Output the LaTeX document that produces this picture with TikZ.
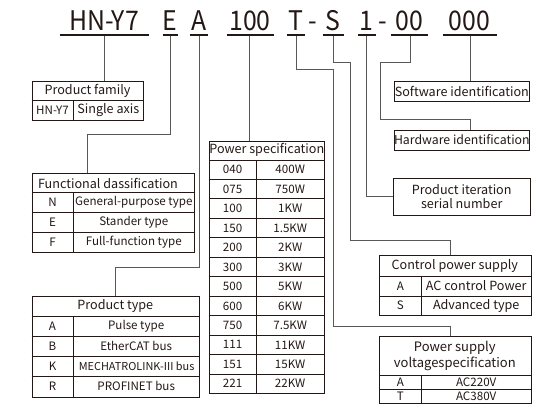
\documentclass[tikz,border=0pt]{standalone}
\usepackage{fontspec}
\setmainfont{Noto Sans CJK SC}
\usetikzlibrary{calc}
\definecolor{ink}{HTML}{231815}
\definecolor{wire}{HTML}{5A5757}
\tikzset{
  hdtext/.style={font=\fontsize{27}{27}\selectfont, text=ink, inner sep=0pt, anchor=base, xscale=0.92},
  uline/.style={draw=ink, line width=2.2pt},
  wireline/.style={draw=wire, line width=0.9pt},
  boxline/.style={draw=ink, line width=0.9pt},
  cellhead/.style={font=\fontsize{12.6}{14}\selectfont, text=ink, inner sep=0pt},
  cell/.style={font=\fontsize{11.6}{13}\selectfont, text=ink, inner sep=0pt},
  frame/.style={boxline, inner sep=0pt, anchor=north west},
}
\newcommand{\tframe}[5]{% name, x1,y1,x2,y2
  \node[frame, minimum width={(#4-#2)*1pt}, minimum height={(#5-#3)*1pt}] (#1) at (#2,#3) {};}
\begin{document}
\begin{tikzpicture}[x=1pt,y=-1pt]
\useasboundingbox (0,0) rectangle (544,410);
% ---------------- header ----------------
\node[hdtext] (hHN) at (104,30.5) {HN-Y7};
\node[hdtext] (hE) at (170,30.5) {E};
\node[hdtext] (hA) at (199,30.5) {A};
\node[hdtext] (h100) at (250,30.5) {100};
\node[hdtext] (hT) at (296,30.5) {T};
\node[hdtext] (hd1) at (313,30.5) {-};
\node[hdtext] (hS) at (333,30.5) {S};
\node[hdtext] (h1) at (366.5,30.5) {1};
\node[hdtext] (hd2) at (382.5,30.5) {-};
\node[hdtext] (h00) at (409.5,30.5) {00};
\node[hdtext] (h000) at (469.5,30.5) {000};
\draw[uline] (59.5,35) -- (148.5,35);
\draw[uline] (162.5,35) -- (177.5,35);
\draw[uline] (189.5,35) -- (208,35);
\draw[uline] (226.5,35) -- (273.5,35);
\draw[uline] (287,35) -- (305,35);
\draw[uline] (322.5,35) -- (344,35);
\draw[uline] (358,35) -- (375.5,35);
\draw[uline] (391,35) -- (428,35);
\draw[uline] (443,35) -- (497,35);
\coordinate (tHN) at (104,36);
\coordinate (tE) at (170,36);
\coordinate (tA) at (199,36);
\coordinate (t100) at (249.3,36);
\coordinate (tT) at (296,36);
\coordinate (tS) at (333.3,36);
\coordinate (t1) at (366.7,36);
\coordinate (t00) at (410,36);
\coordinate (t000) at (470,36);
% ---------------- Product family ----------------
\tframe{pf}{31.7}{80.7}{143.3}{120}
\draw[boxline] (31.7,100) -- (143.3,100) (73.3,100) -- (73.3,120);
\node[cellhead] (pfh) at (87.5,90.5) {Product family};
\node[cell] (pfa) at (52.5,110.3) {HN-Y7};
\node[cellhead] (pfb) at (108.3,110.3) {Single axis};
% ---------------- Functional ----------------
\tframe{fc}{31.7}{173.3}{194.3}{251.7}
\draw[boxline] (31.7,192.7) -- (194.3,192.7) (31.7,212.3) -- (194.3,212.3) (31.7,232.3) -- (194.3,232.3)
  (73.3,192.7) -- (73.3,251.7);
\node[cellhead, anchor=west] (fch) at (37.8,183) {Functional dassification};
\node[cell] (fc1a) at (52.5,202.5) {N};
\node[cell] (fc1b) at (133.8,202.5) {General-purpose type};
\node[cell] (fc2a) at (52.5,222.3) {E};
\node[cell] (fc2b) at (133.8,222.3) {Stander type};
\node[cell] (fc3a) at (52.5,242) {F};
\node[cell] (fc3b) at (133.8,242) {Full-function type};
% ---------------- Product type ----------------
\tframe{pt}{31.7}{296}{199}{396.7}
\draw[boxline] (31.7,316) -- (199,316) (31.7,336) -- (199,336) (31.7,356) -- (199,356) (31.7,376) -- (199,376)
  (73.3,316) -- (73.3,396.7);
\node[cellhead] (pth) at (115.3,306) {Product type};
\node[cell] (pt1a) at (52.5,326) {A};
\node[cell] (pt1b) at (136.2,326) {Pulse type};
\node[cell] (pt2a) at (52.5,346) {B};
\node[cell] (pt2b) at (136.2,346) {EtherCAT bus};
\node[cell] (pt3a) at (52.5,366) {K};
\node[cell, font=\fontsize{10.9}{13}\selectfont] (pt3b) at (136.6,366) {MECHATROLINK-III bus};
\node[cell] (pt4a) at (52.5,386.3) {R};
\node[cell] (pt4b) at (136.2,386.3) {PROFINET bus};
% ---------------- Power specification ----------------
\tframe{ps}{209.3}{140.7}{324.3}{393.4}
\draw[boxline] (209.3,160) -- (324.3,160) (256,160) -- (256,393.4);
\foreach \i in {1,...,11} {\draw[boxline] (209.3,{160+\i*19.45}) -- (324.3,{160+\i*19.45});}
\node[cellhead] (psh) at (266.8,150.3) {Power specification};
\foreach \a/\b [count=\i] in {040/400W,075/750W,100/1KW,150/1.5KW,200/2KW,300/3KW,500/5KW,600/6KW,750/7.5KW,111/11KW,151/15KW,221/22KW} {
  \node[cell] (psa\i) at (232.6,{160+(\i-0.5)*19.45}) {\a};
  \node[cell] (psb\i) at (290.2,{160+(\i-0.5)*19.45}) {\b};
}
% ---------------- Right boxes ----------------
\tframe{sw}{394.3}{81}{529.3}{101}
\node[cellhead] (swt) at (461.8,91) {Software identification};
\tframe{hw}{394.3}{130}{529.3}{149.5}
\node[cellhead, font=\fontsize{12.3}{14}\selectfont] (hwt) at (461.8,139.8) {Hardware identification};
\tframe{pi}{393.3}{178.3}{530}{215}
\node[cellhead, align=center] (pit) at (461.7,196.7) {Product iteration\\serial number};
% ---------------- Control power supply ----------------
\tframe{cp}{379}{255}{530.7}{315}
\draw[boxline] (379,276) -- (530.7,276) (379,296) -- (530.7,296) (421.7,276) -- (421.7,315);
\node[cellhead] (cph) at (454.8,265.5) {Control power supply};
\node[cell] (cp1a) at (400.3,286) {A};
\node[cellhead] (cp1b) at (476.2,286) {AC control Power};
\node[cell] (cp2a) at (400.3,305.5) {S};
\node[cellhead] (cp2b) at (476.2,305.5) {Advanced type};
% ---------------- Power supply voltage ----------------
\tframe{pv}{379}{336}{530.7}{403.3}
\draw[boxline] (379,375) -- (530.7,375) (379,389.3) -- (530.7,389.3) (421.7,375) -- (421.7,403.3);
\node[cellhead, align=center, font=\fontsize{13}{16}\selectfont] (pvh) at (454.8,355.5) {Power supply\\voltagespecification};
\node[cell] (pv1a) at (400.3,382.2) {A};
\node[cell] (pv1b) at (476.2,382.2) {AC220V};
\node[cell] (pv2a) at (400.3,396.3) {T};
\node[cell] (pv2b) at (476.2,396.3) {AC380V};
% ---------------- connectors ----------------
\draw[wireline] (tHN) -- (tHN |- pf.north);
\draw[wireline] (tE) |- (87.3,134) -- (87.3,173.3);
\draw[wireline] (tA) |- (115.7,267.3) -- (115.7,296);
\draw[wireline] (t100) -- (t100 |- ps.north);
\draw[wireline] (tT) |- (333.3,69.3) |- (450,326.7) -- (450,336);
\draw[wireline] (tS) |- (350,62.7) |- (450,240.7) -- (450,255);
\draw[wireline] (t1) |- (pi.west |- 0,196.7);
\draw[wireline] (t00) |- (380.7,62.7) |- (470,119.3) -- (470,130);
\draw[wireline] (t000) -- (t000 |- sw.north);
\end{tikzpicture}
\end{document}
